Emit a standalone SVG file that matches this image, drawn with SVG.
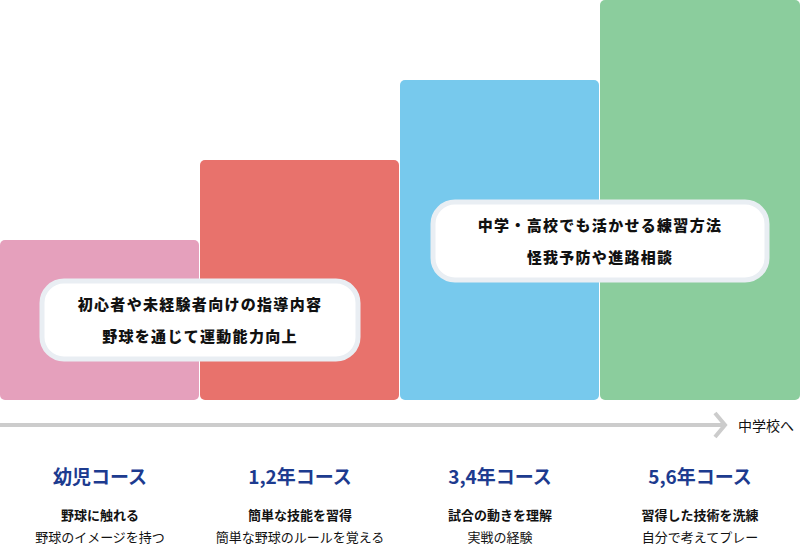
<svg xmlns="http://www.w3.org/2000/svg" width="800" height="556" viewBox="0 0 800 556">
<style>
text{font-family:"Noto Sans CJK JP","Noto Sans",sans-serif;text-anchor:middle;fill:#111}
.c{font-size:15px;font-weight:900;letter-spacing:1.3px}
.t{font-size:19px;font-weight:bold;fill:#1d3b8f}
.s{font-size:13px}
.b{font-weight:bold}
.call{fill:#fff;stroke:#e9eef3;stroke-width:5}
</style>
<g id="bars">
<rect x="0" y="240" width="199" height="160" rx="5" fill="#e5a0bc"/>
<rect x="200" y="160" width="199" height="240" rx="5" fill="#e8726c"/>
<rect x="400" y="80" width="199" height="320" rx="5" fill="#77c9ed"/>
<rect x="600" y="0" width="200" height="400" rx="5" fill="#8bcd9d"/>
</g>
<g id="callout1">
<rect class="call" x="42" y="281" width="316" height="78" rx="22"/>
<text class="c" x="200" y="310">初心者や未経験者向けの指導内容</text>
<text class="c" x="200" y="342">野球を通じて運動能力向上</text>
</g>
<g id="callout2">
<rect class="call" x="433" y="202" width="334" height="78" rx="22"/>
<text class="c" x="600" y="231">中学・高校でも活かせる練習方法</text>
<text class="c" x="600" y="263">怪我予防や進路相談</text>
</g>
<g id="connectors">
<line x1="0" y1="425" x2="724" y2="425" stroke="#cccccc" stroke-width="4"/>
<polyline points="715,413 725,425 715,437" fill="none" stroke="#cccccc" stroke-width="4"/>
</g>
<text x="766" y="431" class="s" style="font-size:14px">中学校へ</text>
<g id="course1"><text class="t" x="100" y="484">幼児コース</text><text class="s b" x="100" y="520">野球に触れる</text><text class="s" x="100" y="542">野球のイメージを持つ</text></g>
<g id="course2"><text class="t" x="300" y="484">1,2年コース</text><text class="s b" x="300" y="520">簡単な技能を習得</text><text class="s" x="300" y="542">簡単な野球のルールを覚える</text></g>
<g id="course3"><text class="t" x="500" y="484">3,4年コース</text><text class="s b" x="500" y="520">試合の動きを理解</text><text class="s" x="500" y="542">実戦の経験</text></g>
<g id="course4"><text class="t" x="700" y="484">5,6年コース</text><text class="s b" x="700" y="520">習得した技術を洗練</text><text class="s" x="700" y="542">自分で考えてプレー</text></g>
</svg>
